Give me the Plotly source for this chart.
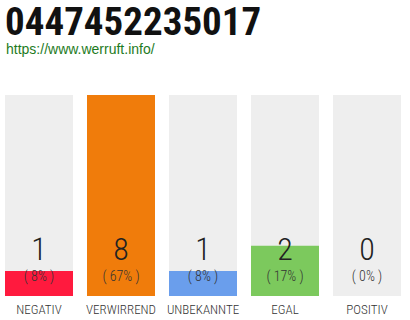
import plotly.graph_objects as go

categories = ["NEGATIV", "VERWIRREND", "UNBEKANNTE", "EGAL", "POSITIV"]
counts = [1, 8, 1, 2, 0]
percents = ["( 8% )", "( 67% )", "( 8% )", "( 17% )", "( 0% )"]
colors = ["#FF1A3E", "#F07C0B", "#6A9EEC", "#7CC95D", "#22A84A"]
title = "0447452235017"
link = "https://www.werruft.info/"

xs = list(range(len(categories)))
ymax = max(counts)
W = 68 / 82
base = -0.045
FONT = "Roboto Condensed"

fig = go.Figure()
fig.add_trace(go.Bar(x=xs, y=[ymax - base] * len(xs), base=base, width=W,
                     marker=dict(color="#EEEEEE", line=dict(width=0)),
                     hoverinfo="skip", showlegend=False))
fig.add_trace(go.Bar(x=xs, y=[c - base for c in counts], base=base, width=W,
                     marker=dict(color=colors, line=dict(width=0)),
                     hoverinfo="skip", showlegend=False))
fig.add_trace(go.Scatter(x=xs, y=[1.75] * len(xs), mode="text",
                         text=[str(c) for c in counts],
                         textfont=dict(family=FONT, size=32, weight=300, color="#222222"),
                         hoverinfo="skip", showlegend=False))
fig.add_trace(go.Scatter(x=xs, y=[0.74] * len(xs), mode="text",
                         text=percents,
                         textfont=dict(family=FONT, size=14, weight=300, color="#333333"),
                         hoverinfo="skip", showlegend=False))

fig.update_layout(
    width=410, height=320,
    margin=dict(l=0, r=0, t=95, b=24),
    plot_bgcolor="white", paper_bgcolor="white",
    barmode="overlay",
    xaxis=dict(range=[-39 / 82, 5 - 39 / 82], tickvals=xs, ticktext=categories,
               showgrid=False, zeroline=False, showline=False, ticks="",
               tickangle=0, automargin=False, ticklabelstandoff=4,
               tickfont=dict(family=FONT, size=13, weight=300, color="#333333"),
               fixedrange=True),
    yaxis=dict(range=[0, ymax], visible=False, fixedrange=True),
    annotations=[
        dict(text="<b>" + title + "</b>", xref="paper", yref="paper",
             x=3 / 410, y=(296 - 22) / 201, xanchor="left", yanchor="middle",
             showarrow=False,
             font=dict(family=FONT, size=39, color="#111111")),
        dict(text=link, xref="paper", yref="paper",
             x=4 / 410, y=(296 - 49) / 201, xanchor="left", yanchor="middle",
             showarrow=False,
             font=dict(family="Liberation Sans", size=14, color="#1E7B1E")),
    ],
)

fig.write_html("out.html")
